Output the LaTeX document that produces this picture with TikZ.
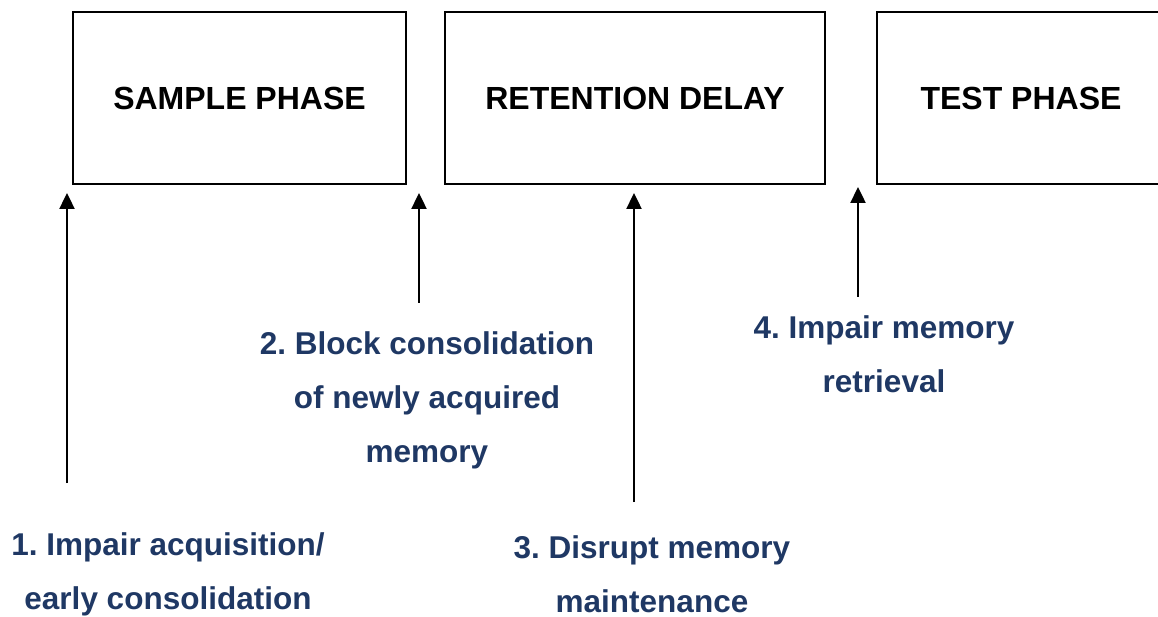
\documentclass[tikz,border=0pt]{standalone}
\usepackage{fontspec}
\setmainfont{Liberation Sans}
\usetikzlibrary{arrows.meta}
\definecolor{navy}{HTML}{1F3864}
\frenchspacing
\tikzset{phase/.style={rectangle, draw, line width=1.5pt, inner sep=0pt,
    minimum height=172pt, font=\bfseries\fontsize{32}{38}\selectfont},
  effect/.style={align=center, text=navy, font=\bfseries\fontsize{31.5}{54}\selectfont},
  push/.style={-{Triangle[width=15pt,length=16pt]}, line width=2.4pt}}

\begin{document}
\begin{tikzpicture}[x=1pt, y=-1pt]
      \clip (0,0) rectangle (1158,617);

      % the three phases of the task
      \node [phase, minimum width=333pt]  (sample)  at (239.5,98) {SAMPLE PHASE};
      \node [phase, minimum width=380pt]  (delay)   at (635,98)   {RETENTION DELAY};
      \node [phase, minimum width=288pt]  (test)    at (1021,98)  {TEST PHASE};

      % where each treatment acts
      \node [effect]  (e1)  at (168,574)  {1. Impair acquisition/\\early consolidation};
      \coordinate     (a1)  at (67,483);
      \coordinate     (t1)  at (67,193);
      \draw [push]  (a1) to (t1);

      \node [effect]  (e2)  at (427,400)  {2. Block consolidation\\of newly acquired\\memory};
      \coordinate     (a2)  at (419,303);
      \coordinate     (t2)  at (419,193);
      \draw [push]  (a2) to (t2);

      \node [effect]  (e3)  at (652,574)  {3. Disrupt memory\\maintenance};
      \coordinate     (a3)  at (634,502);
      \coordinate     (t3)  at (634,193);
      \draw [push]  (a3) to (t3);

      \node [effect]  (e4)  at (884,354)  {4. Impair memory\\retrieval};
      \coordinate     (a4)  at (858,297);
      \coordinate     (t4)  at (858,187);
      \draw [push]  (a4) to (t4);
    \end{tikzpicture}
\end{document}
